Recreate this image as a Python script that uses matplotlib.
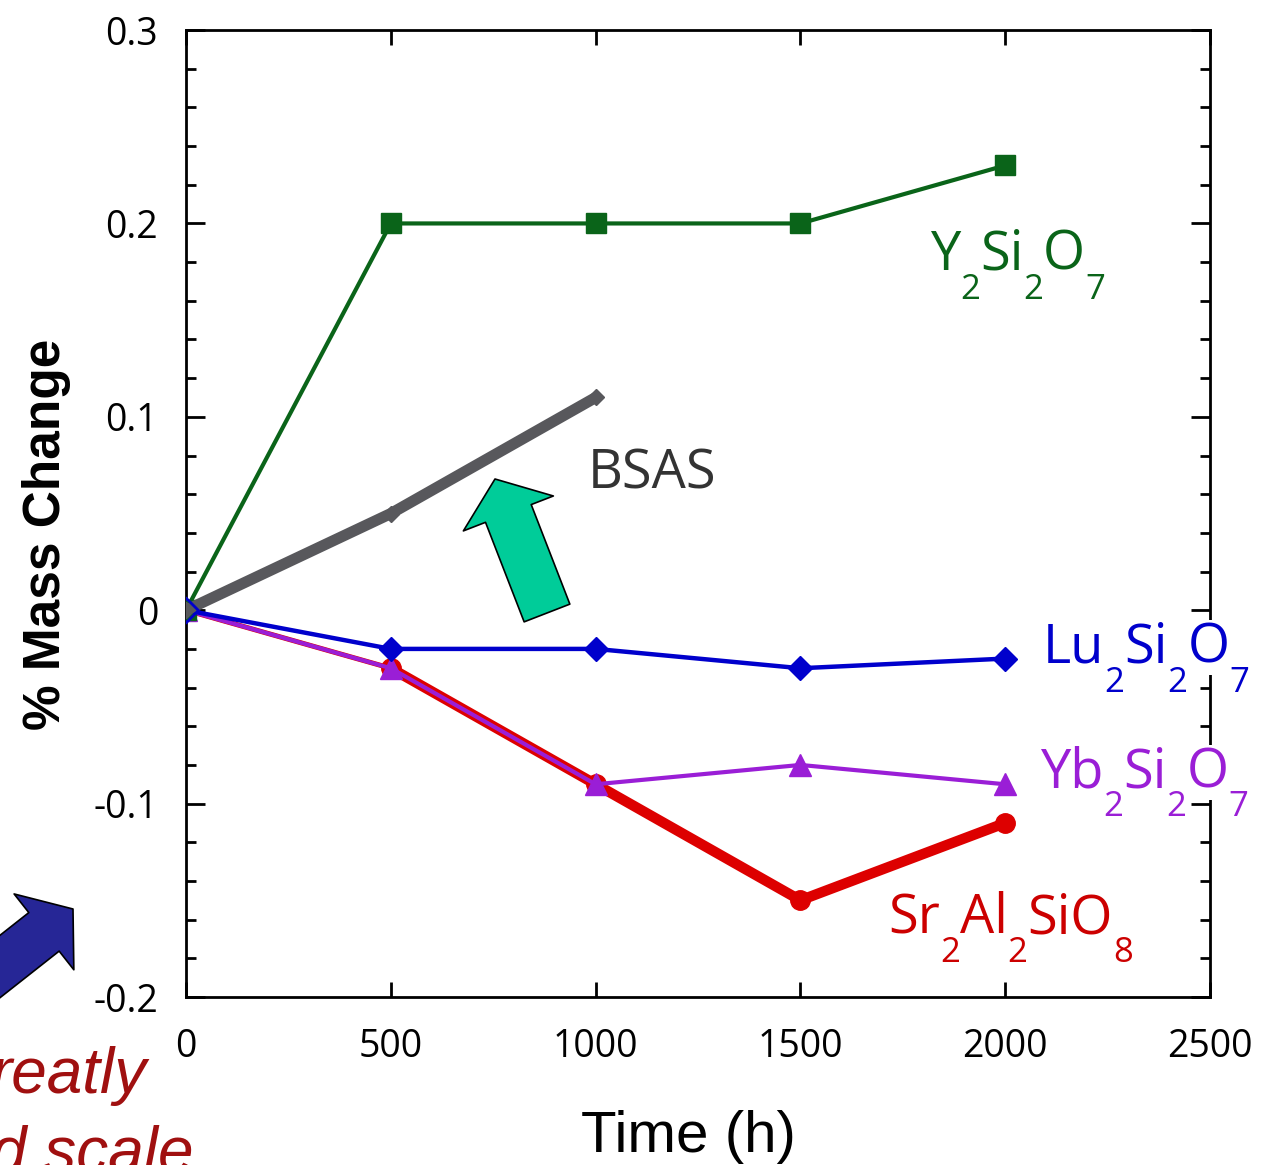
import matplotlib
matplotlib.use("Agg")
import matplotlib.pyplot as plt
from matplotlib.ticker import MultipleLocator, FuncFormatter

plt.rcParams['axes.unicode_minus'] = False

# mass change (%) vs exposure time (h)
hours = [0, 500, 1000, 1500, 2000]
y2si2o7 = [0, 0.20, 0.20, 0.20, 0.23]
lu2si2o7 = [0, -0.02, -0.02, -0.03, -0.025]
yb2si2o7 = [0, -0.03, -0.09, -0.08, -0.09]
sr2al2sio8 = [0, -0.03, -0.09, -0.15, -0.11]
bsas_hours = [0, 500, 1000]
bsas = [0, 0.05, 0.11]

GREEN = '#0a6419'
GRAY = '#58585c'
BLUE = '#0000cc'
PURPLE = '#9a1ed6'
RED = '#dd0000'

fig = plt.figure(figsize=(12.62, 11.65), dpi=100)
ax = fig.add_axes([0.1474, 0.1442, 0.8114, 0.8300])

# red goes first so the purple line sits on top of it
ax.plot(hours[:2], sr2al2sio8[:2], color=RED, lw=3.6, zorder=2)
ax.plot(hours[1:], sr2al2sio8[1:], color=RED, lw=7.5, marker='o', ms=14,
        mec=RED, zorder=2)
ax.plot(hours, yb2si2o7, color=PURPLE, lw=3, marker='^', ms=16,
        mec=PURPLE, zorder=3)
ax.plot(hours, y2si2o7, color=GREEN, lw=3, marker='s', ms=14,
        mec=GREEN, zorder=3)
ax.plot(hours, lu2si2o7, color=BLUE, lw=3.2, marker='D', ms=12,
        mec=BLUE, markevery=slice(1, None), zorder=4)
ax.plot(bsas_hours, bsas, color=GRAY, lw=8, marker='D', ms=8,
        mec=GRAY, solid_capstyle='butt', zorder=5)
ax.plot(hours[:1], lu2si2o7[:1], ls='none', marker='D', ms=12,
        mfc='none', mec=BLUE, mew=2, zorder=6)

ax.set_xlim(0, 2500)
ax.set_ylim(-0.2, 0.3)
ax.xaxis.set_major_locator(MultipleLocator(500))
ax.yaxis.set_major_locator(MultipleLocator(0.1))
ax.yaxis.set_minor_locator(MultipleLocator(0.02))
ax.yaxis.set_major_formatter(FuncFormatter(lambda v, p: '0' if abs(v) < 1e-9 else '%g' % v))

for s in ax.spines.values():
    s.set_linewidth(2)
ax.tick_params(which='both', direction='in', top=True, right=True, width=2)
ax.tick_params(axis='x', which='major', length=11, pad=22,
               labelsize=27, labelfontfamily='Open Sans')
ax.tick_params(axis='y', which='major', length=14, pad=20,
               labelsize=27, labelfontfamily='Open Sans')
ax.tick_params(axis='y', which='minor', length=7)

ax.set_xlabel('Time (h)', fontsize=42, family='Liberation Sans')
ax.set_ylabel('% Mass Change', fontsize=37, family='Liberation Sans',
              fontweight='bold')
ax.xaxis.set_label_coords(0.491, -0.117)
ax.yaxis.set_label_coords(-0.112, 0.478)

renderer = fig.canvas.get_renderer()


def formula(x, y, parts, color, size=39):
    # lay out a chemical formula piece by piece with dropped subscripts
    dx = 0
    for txt, sub in parts:
        fs = size * 0.64 if sub else size
        dy = -size * 0.54 if sub else 0
        t = ax.annotate(txt, (x, y), xytext=(dx, dy), textcoords='offset points',
                        fontsize=fs, color=color, family='Open Sans',
                        ha='left', va='baseline', zorder=7,
                        bbox=dict(fc='white', ec='none', pad=0))
        dx += t.get_window_extent(renderer).width * 72 / fig.dpi


formula(1816, 0.176, [('Y', 0), ('2', 1), ('Si', 0), ('2', 1), ('O', 0), ('7', 1)], GREEN)
formula(2092, -0.027, [('Lu', 0), ('2', 1), ('Si', 0), ('2', 1), ('O', 0), ('7', 1)], BLUE)
formula(2085, -0.0915, [('Yb', 0), ('2', 1), ('Si', 0), ('2', 1), ('O', 0), ('7', 1)], PURPLE)
formula(1714, -0.167, [('Sr', 0), ('2', 1), ('Al', 0), ('2', 1), ('SiO', 0), ('8', 1)], '#cc0000')
ax.text(981, 0.063, 'BSAS', fontsize=39, color='#333333', family='Open Sans',
        ha='left', va='baseline')

# block arrows (positions in figure pixels)
H = fig.get_figheight() * fig.dpi
ax.annotate('', xy=(495, H - 479), xytext=(547, H - 613), xycoords='figure pixels',
            textcoords='figure pixels',
            arrowprops=dict(arrowstyle='simple,head_length=0.266,head_width=0.695,tail_width=0.353',
                            mutation_scale=100, fc='#00cc99', ec='black', lw=1.2,
                            shrinkA=0, shrinkB=0))
ax.annotate('', xy=(73, H - 909), xytext=(-40, H - 998), xycoords='figure pixels',
            textcoords='figure pixels',
            arrowprops=dict(arrowstyle='simple,head_length=0.266,head_width=0.695,tail_width=0.353',
                            mutation_scale=100, fc='#262696', ec='black', lw=1.2,
                            shrinkA=0, shrinkB=0))

fig.text(147 / 1262, 1 - 1093 / 1165, 'reatly', fontsize=46, style='italic',
         color='#a01010', family='Liberation Sans', ha='right', va='baseline')
fig.text(194 / 1262, 1 - 1171 / 1165, 'd scale', fontsize=46, style='italic',
         color='#a01010', family='Liberation Sans', ha='right', va='baseline')

fig.savefig('out.png', dpi=100)
